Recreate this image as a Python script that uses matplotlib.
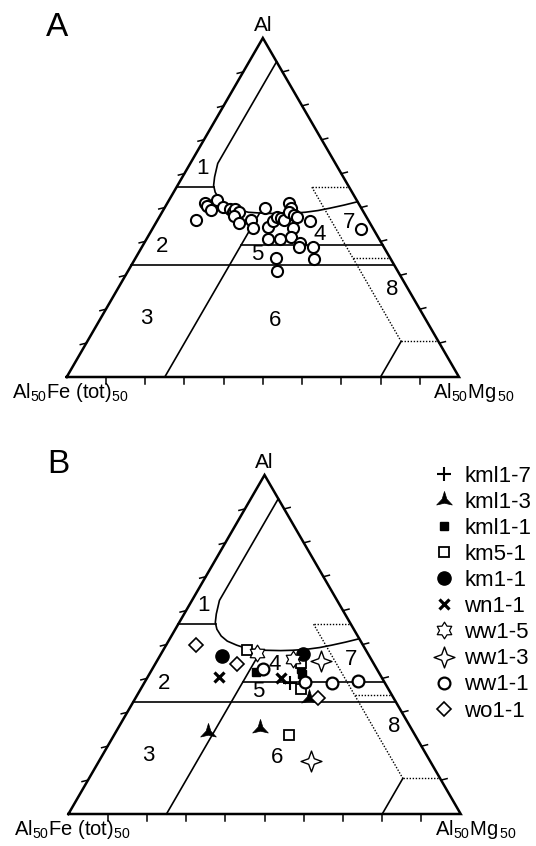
import numpy as np
import matplotlib.pyplot as plt
from matplotlib.path import Path

plt.rcParams['font.family'] = ['Liberation Sans', 'DejaVu Sans']
plt.rcParams['mathtext.fontset'] = 'custom'
plt.rcParams['mathtext.rm'] = 'Liberation Sans'
plt.rcParams['mathtext.it'] = 'Liberation Sans'
plt.rcParams['mathtext.default'] = 'regular'

# ternary compositions in percent: Al apex, Al50Fe50 left, Al50Mg50 right
# panel A: all chlorite analyses
a_al = [46.3, 51.2, 50.5, 49.3, 52.2, 50.2, 49.5, 48.8, 49.5, 48.6, 47.5, 45.3,
        46.3, 43.9, 49.8, 44.3, 46.1, 47.3, 46.8, 46.3, 51.2, 49.8, 48.6, 47.8,
        47.3, 43.9, 46.0, 40.8, 40.6, 41.2, 39.6, 38.4, 38.4, 35.0, 34.7, 31.4, 43.7]
a_mg = [9.8, 9.7, 10.6, 12.2, 12.3, 14.7, 16.8, 17.9, 18.2, 19.7, 18.9, 21.3,
        23.9, 25.5, 25.6, 29.2, 29.5, 29.9, 31.1, 32.2, 31.1, 32.2, 32.4, 34.1,
        35.1, 35.8, 39.1, 31.0, 34.0, 36.5, 39.7, 40.1, 43.6, 35.9, 45.6, 37.9, 53.1]

# panel B: samples
b_names = ['kml1-7', 'kml1-3', 'kml1-1', 'km5-1', 'km1-1',
           'wn1-1', 'ww1-5', 'ww1-3', 'ww1-1', 'wo1-1']
b_al = [[38.6],
        [24.3, 25.4, 34.2],
        [42.0, 42.8, 41.4],
        [48.3, 44.5, 36.9, 23.3],
        [46.5, 47.3],
        [40.5, 40.2],
        [47.6, 45.7],
        [45.0, 15.6],
        [42.8, 38.9, 38.6, 39.2],
        [50.0, 44.2, 34.2]]
b_mg = [[37.1],
        [23.5, 36.2, 44.2],
        [26.9, 37.9, 38.8],
        [21.3, 37.0, 40.8, 44.6],
        [15.8, 36.1],
        [18.2, 34.1],
        [24.2, 34.4],
        [42.0, 54.0],
        [28.3, 40.9, 47.8, 54.2],
        [7.5, 20.8, 46.5]]


def xy(al, mg):
    al = np.asarray(al, float) / 100
    mg = np.asarray(mg, float) / 100
    return mg + al / 2, al


star3 = Path.unit_regular_star(3, 0.3)
star4 = Path.unit_regular_star(4, 0.38)
star6 = Path.unit_regular_star(6, 0.6)
styles = [dict(marker='+', ms=10, mew=1.5, mfc='k'),
          dict(marker=star3, ms=13, mew=0.5, mfc='k'),
          dict(marker='s', ms=6, mew=1, mfc='k'),
          dict(marker='s', ms=7.5, mew=1.3, mfc='white'),
          dict(marker='o', ms=9.5, mew=1, mfc='k'),
          dict(marker='x', ms=7, mew=2.3, mfc='k'),
          dict(marker=star6, ms=12, mew=0.9, mfc='white'),
          dict(marker=star4, ms=15, mew=1.0, mfc='white'),
          dict(marker='o', ms=8.5, mew=1.6, mfc='white'),
          dict(marker='D', ms=7, mew=1.2, mfc='white')]

curve_al = [93, 63, 59, 56.5, 54.5, 52.5, 51, 49.8, 49, 48.6, 48.3, 48.2,
            48.3, 48.6, 49.1, 49.8, 50.7, 51.7]
curve_mg = [7, 7, 8.2, 9.2, 10.6, 12.7, 15, 18, 20.5, 22, 26, 30,
            33, 36.5, 39.5, 42.2, 45.3, 48.3]


def frame(ax, letter, four):
    ax.set_xlim(0, 1)
    ax.set_ylim(0, 1)
    ax.axis('off')
    kw = dict(color='k', clip_on=False)
    ax.plot([0, 1, 0.5, 0], [0, 0, 1, 0], lw=1.8, solid_joinstyle='miter', **kw)
    px, py = 1 / 392.3, 1 / 339
    for i in range(1, 10):
        t = i / 10
        ax.plot([t, t], [0, -7 * py], lw=1.1, **kw)
        ax.plot([t / 2, t / 2 - 6 * px], [t, t - 1.5 * py], lw=1.1, **kw)
        ax.plot([1 - t / 2, 1 - t / 2 + 6 * px], [t, t + 1.5 * py], lw=1.1, **kw)

    lw = 1.2
    ax.plot(*xy(curve_al, curve_mg), lw=lw, **kw)
    ax.plot(*xy([0, 48.3], [25, 25]), lw=lw, **kw)
    ax.plot(*xy([56, 56], [0, 9.5]), lw=lw, **kw)
    ax.plot(*xy([39, 39], [25, 61]), lw=lw, **kw)
    ax.plot(*xy([33, 33], [0, 67]), lw=lw, **kw)
    ax.plot(*xy([10.5, 0], [80, 80]), lw=lw, **kw)
    dk = dict(color='k', lw=1.0, ls=(0, (1, 1.2)), clip_on=False)
    ax.plot(*xy([56, 56], [34.5, 44]), **dk)
    ax.plot(*xy([56, 10.5], [34.5, 80]), **dk)
    ax.plot(*xy([35, 35], [55.5, 65]), **dk)
    ax.plot(*xy([10.5, 10.5], [80, 89.5]), **dk)

    nums = {'1': (61.5, 3.8), '2': (38.5, 5.1), '3': (17.2, 11.8), '4': four,
            '5': (36, 30.5), '6': (16.8, 44.8), '7': (45.6, 49.2), '8': (25.7, 70.1)}
    for s, (al, mg) in nums.items():
        x, y = xy(al, mg)
        ax.text(x, y, s, fontsize=16, ha='center', va='center')

    ax.text(-0.025, 1.03, letter, fontsize=24, ha='center', va='center')
    ax.text(0.5, 1.037, 'Al', fontsize=15, ha='center', va='center')
    ax.text(-0.139, -0.062, r'Al$_{50}$Fe (tot)$_{50}$', fontsize=14.5,
            ha='left', va='baseline')
    ax.text(1.142, -0.062, r'Al$_{50}$Mg$_{\,50}$', fontsize=14.5,
            ha='right', va='baseline')


fig = plt.figure(figsize=(5.36, 8.46), dpi=100)
axA = fig.add_axes([66.7 / 536, (846 - 377) / 846, 392.3 / 536, 339 / 846])
axB = fig.add_axes([68.4 / 536, (846 - 814) / 846, 392.3 / 536, 339 / 846])

frame(axA, 'A', (42, 43.6))
frame(axB, 'B', (44, 30.7))

axA.plot(*xy(a_al, a_mg), ls='none', marker='o', ms=8, mew=1.5,
         mfc='white', mec='k', clip_on=False)

for name, al, mg, st in zip(b_names, b_al, b_mg, styles):
    axB.plot(*xy(al, mg), ls='none', mec='k', label=name, clip_on=False, **st)

axB.legend(loc='upper left', bbox_to_anchor=(0.935, 1.028), frameon=False,
           fontsize=16, numpoints=1, handlelength=0.8, handletextpad=0.5,
           labelspacing=0.23, borderaxespad=0, borderpad=0)

fig.savefig('out.png', dpi=100)
